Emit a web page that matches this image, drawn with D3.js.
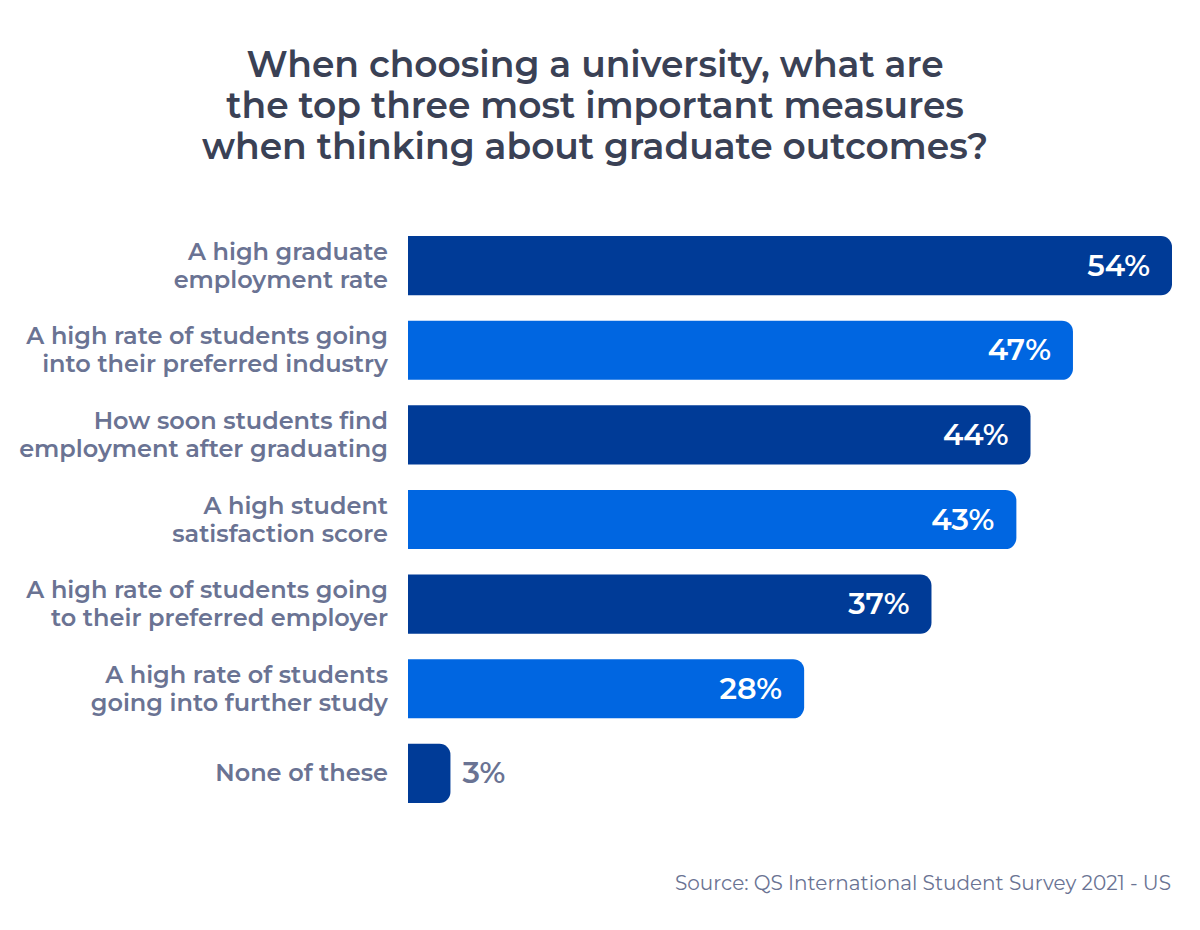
<!DOCTYPE html>
<html>
<head>
<meta charset="utf-8">
<script src="https://cdn.jsdelivr.net/npm/d3@7"></script>
<style>
  html, body { margin: 0; padding: 0; background: #ffffff; }
  svg { display: block; }
  text { font-family: "Montserrat", "Open Sans", "DejaVu Sans", sans-serif; }
</style>
</head>
<body>
<svg id="chart" width="1200" height="930"></svg>
<script>
const titleLines = [
  "When choosing a university, what are",
  "the top three most important measures",
  "when thinking about graduate outcomes?"
];
const categories = [
  ["A high graduate", "employment rate"],
  ["A high rate of students going", "into their preferred industry"],
  ["How soon students find", "employment after graduating"],
  ["A high student", "satisfaction score"],
  ["A high rate of students going", "to their preferred employer"],
  ["A high rate of students", "going into further study"],
  ["None of these"]
];
const values = [54, 47, 44, 43, 37, 28, 3];
const barColors = ["#003b97", "#0066e1"];
const sourceText = "Source: QS International Student Survey 2021 - US";

const svg = d3.select("#chart");

const x = d3.scaleLinear().domain([0, 54]).range([408, 1172]);
const y = d3.scaleBand().domain(d3.range(values.length)).range([236, 803]).paddingInner(0.3).paddingOuter(0);

// Title
const title = svg.append("text")
  .attr("x", 595)
  .attr("y", 77)
  .attr("text-anchor", "middle")
  .attr("fill", "#3a4155")
  .style("font-size", "36px")
  .style("font-weight", 600);
titleLines.forEach((l, i) => {
  title.append("tspan").attr("x", 595).attr("dy", i === 0 ? 0 : 41).text(l);
});

function barPath(x0, x1, y0, h, r) {
  const w = x1 - x0;
  r = Math.min(r, w, h / 2);
  return `M${x0},${y0}H${x1 - r}A${r},${r} 0 0 1 ${x1},${y0 + r}V${y0 + h - r}A${r},${r} 0 0 1 ${x1 - r},${y0 + h}H${x0}Z`;
}

const rows = svg.append("g").selectAll("g").data(values).join("g");

rows.append("path")
  .attr("d", (d, i) => barPath(x(0), x(d), y(i), y.bandwidth(), 11))
  .attr("fill", (d, i) => barColors[i % 2]);

// Category labels
rows.append("text")
  .attr("text-anchor", "end")
  .attr("fill", "#6a7393")
  .style("font-size", "24px")
  .style("font-weight", 600)
  .each(function(d, i) {
    const lines = categories[i];
    const cy = y(i) + y.bandwidth() / 2;
    const t = d3.select(this);
    const lh = 28;
    const start = cy - (lines.length - 1) * lh / 2 + 8;
    lines.forEach((l, j) => {
      t.append("tspan").attr("x", 388).attr("y", start + j * lh).text(l);
    });
  });

// Value labels
rows.append("text")
  .attr("x", (d) => d > 10 ? x(d) - 22 : x(d) + 12)
  .attr("y", (d, i) => y(i) + y.bandwidth() / 2 + 10)
  .attr("text-anchor", d => d > 10 ? "end" : "start")
  .attr("fill", d => d > 10 ? "#ffffff" : "#6a7393")
  .style("font-size", "30px")
  .style("font-weight", 600)
  .text(d => d + "%");

// Source
svg.append("text")
  .attr("x", 1171)
  .attr("y", 890)
  .attr("text-anchor", "end")
  .attr("fill", "#6a7393")
  .style("font-size", "20px")
  .text(sourceText);
</script>
</body>
</html>
